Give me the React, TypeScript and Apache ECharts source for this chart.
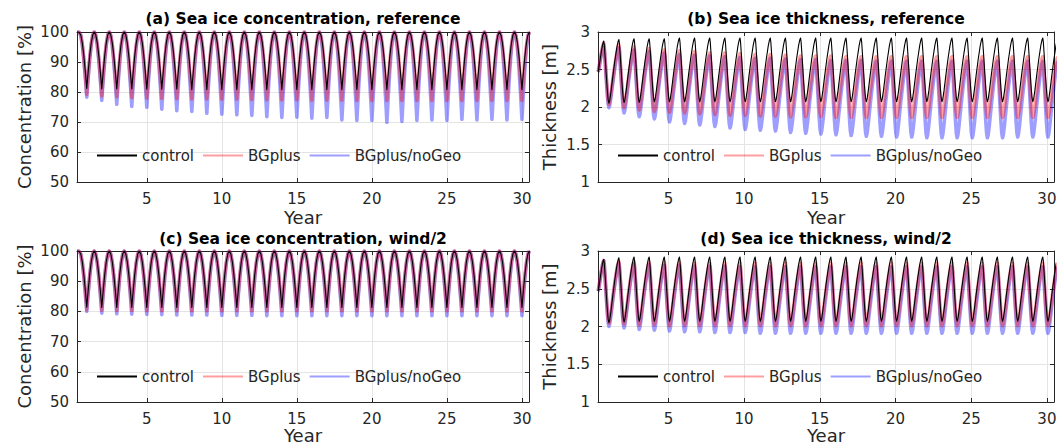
import React, { useEffect, useRef } from "react";
import * as echarts from "echarts";

// ---------- data ----------
const X_MIN = 0.35;
const X_MAX = 30.47;
const YEARS = Array.from({ length: 30 }, (_, i) => i + 1);
const SERIES_NAMES = ["control", "BGplus", "BGplus/noGeo"];

// (a) concentration, reference: yearly summer minima [%]
const A_CONTROL_MIN = [81.2, 81.0, 81.0, 81.0, 80.9, 80.9, 80.9, 80.8, 80.8, 80.8, 80.8, 80.8, 80.8, 80.8, 80.8, 80.8, 80.8, 80.8, 80.8, 80.8, 80.8, 80.8, 80.8, 80.8, 80.8, 80.8, 80.8, 80.8, 80.8, 80.8];
const A_BGPLUS_MIN = [79.2, 78.7, 78.4, 78.2, 78.0, 77.9, 77.8, 77.7, 77.7, 77.6, 77.6, 77.5, 77.4, 77.4, 77.4, 77.3, 77.3, 77.3, 77.2, 77.2, 77.2, 77.2, 77.2, 77.2, 77.2, 77.2, 77.2, 77.2, 77.2, 77.2];
const A_NOGEO_MIN = [78.3, 77.2, 75.9, 75.2, 74.9, 74.3, 73.8, 73.5, 72.9, 72.6, 72.4, 72.2, 71.8, 71.5, 71.6, 71.3, 71.5, 70.7, 70.5, 70.5, 69.9, 70.2, 70.5, 70.7, 70.5, 70.9, 70.7, 70.9, 70.7, 70.9];

// (c) concentration, wind/2
const C_CONTROL_MIN = [81.4, 81.3, 81.3, 81.3, 81.3, 81.3, 81.3, 81.3, 81.3, 81.3, 81.3, 81.3, 81.3, 81.3, 81.3, 81.3, 81.3, 81.3, 81.3, 81.3, 81.3, 81.3, 81.3, 81.3, 81.3, 81.3, 81.3, 81.3, 81.3, 81.3];
const C_BGPLUS_MIN = [80.6, 80.4, 80.3, 80.3, 80.2, 80.2, 80.2, 80.2, 80.2, 80.2, 80.2, 80.2, 80.2, 80.2, 80.2, 80.2, 80.2, 80.2, 80.2, 80.2, 80.2, 80.2, 80.2, 80.2, 80.2, 80.2, 80.2, 80.2, 80.2, 80.2];
const C_NOGEO_MIN = [80.0, 79.4, 79.2, 79.1, 79.0, 78.9, 78.8, 78.8, 78.8, 78.7, 78.7, 78.7, 78.6, 78.6, 78.6, 78.6, 78.6, 78.6, 78.6, 78.6, 78.6, 78.6, 78.6, 78.6, 78.6, 78.6, 78.6, 78.6, 78.6, 78.6];

// (b) thickness, reference: yearly winter maxima / summer minima [m]
const B_START = [2.47, 2.47, 2.47];
const B_CONTROL_PEAK = [2.88, 2.90, 2.91, 2.91, 2.91, 2.92, 2.92, 2.92, 2.92, 2.92, 2.92, 2.92, 2.92, 2.92, 2.92, 2.92, 2.92, 2.92, 2.92, 2.92, 2.92, 2.92, 2.92, 2.92, 2.92, 2.92, 2.92, 2.92, 2.92, 2.92];
const B_CONTROL_TROUGH = [2.05, 2.06, 2.06, 2.07, 2.07, 2.07, 2.07, 2.07, 2.07, 2.07, 2.07, 2.07, 2.07, 2.07, 2.07, 2.07, 2.07, 2.07, 2.07, 2.07, 2.07, 2.07, 2.07, 2.07, 2.07, 2.07, 2.07, 2.07, 2.07, 2.07];
const B_BGPLUS_PEAK = [2.85, 2.83, 2.80, 2.78, 2.76, 2.75, 2.74, 2.72, 2.72, 2.71, 2.70, 2.70, 2.69, 2.68, 2.68, 2.68, 2.67, 2.67, 2.67, 2.67, 2.67, 2.67, 2.67, 2.67, 2.67, 2.67, 2.67, 2.67, 2.67, 2.67];
const B_BGPLUS_TROUGH = [2.03, 1.99, 1.96, 1.94, 1.93, 1.92, 1.91, 1.90, 1.89, 1.89, 1.88, 1.88, 1.87, 1.87, 1.87, 1.86, 1.86, 1.86, 1.86, 1.86, 1.86, 1.86, 1.86, 1.86, 1.86, 1.86, 1.86, 1.86, 1.86, 1.86];
const B_NOGEO_PEAK = [2.83, 2.79, 2.76, 2.74, 2.72, 2.70, 2.69, 2.68, 2.67, 2.66, 2.65, 2.65, 2.64, 2.63, 2.63, 2.62, 2.62, 2.62, 2.61, 2.61, 2.61, 2.61, 2.61, 2.61, 2.61, 2.61, 2.61, 2.61, 2.61, 2.61];
const B_NOGEO_TROUGH = [1.99, 1.92, 1.87, 1.84, 1.80, 1.78, 1.76, 1.74, 1.72, 1.70, 1.69, 1.68, 1.66, 1.65, 1.64, 1.63, 1.62, 1.61, 1.61, 1.60, 1.60, 1.59, 1.59, 1.59, 1.59, 1.59, 1.59, 1.60, 1.60, 1.60];

// (d) thickness, wind/2
const D_START = [2.47, 2.47, 2.47];
const D_CONTROL_PEAK = [2.89, 2.91, 2.92, 2.92, 2.92, 2.92, 2.92, 2.92, 2.92, 2.92, 2.92, 2.92, 2.92, 2.92, 2.92, 2.92, 2.92, 2.92, 2.92, 2.92, 2.92, 2.92, 2.92, 2.92, 2.92, 2.92, 2.92, 2.92, 2.92, 2.92];
const D_CONTROL_TROUGH = [2.05, 2.06, 2.07, 2.07, 2.07, 2.07, 2.07, 2.07, 2.07, 2.07, 2.07, 2.07, 2.07, 2.07, 2.07, 2.07, 2.07, 2.07, 2.07, 2.07, 2.07, 2.07, 2.07, 2.07, 2.07, 2.07, 2.07, 2.07, 2.07, 2.07];
const D_BGPLUS_PEAK = [2.87, 2.86, 2.86, 2.85, 2.85, 2.85, 2.84, 2.84, 2.84, 2.84, 2.84, 2.84, 2.84, 2.84, 2.84, 2.84, 2.84, 2.84, 2.84, 2.84, 2.84, 2.84, 2.84, 2.84, 2.84, 2.84, 2.84, 2.84, 2.84, 2.84];
const D_BGPLUS_TROUGH = [2.04, 2.03, 2.02, 2.02, 2.01, 2.01, 2.01, 2.01, 2.01, 2.01, 2.01, 2.01, 2.01, 2.01, 2.01, 2.01, 2.01, 2.01, 2.01, 2.01, 2.01, 2.01, 2.01, 2.01, 2.01, 2.01, 2.01, 2.01, 2.01, 2.01];
const D_NOGEO_PEAK = [2.87, 2.84, 2.83, 2.82, 2.81, 2.81, 2.80, 2.80, 2.80, 2.79, 2.79, 2.79, 2.79, 2.79, 2.79, 2.79, 2.79, 2.79, 2.79, 2.79, 2.79, 2.79, 2.79, 2.79, 2.79, 2.79, 2.79, 2.79, 2.79, 2.79];
const D_NOGEO_TROUGH = [2.00, 1.98, 1.96, 1.95, 1.94, 1.93, 1.93, 1.92, 1.92, 1.92, 1.91, 1.91, 1.91, 1.91, 1.91, 1.91, 1.91, 1.91, 1.91, 1.91, 1.91, 1.91, 1.91, 1.91, 1.91, 1.91, 1.91, 1.91, 1.91, 1.91];

// seasonal timing (years relative to integer year)
const CONC_DIP_OFFSET = 0;
const THICK_PEAK_OFFSET = -0.27;
const THICK_TROUGH_OFFSET = 0.07;

// seasonal shape profiles: [fraction of segment time, fraction of change]
const CONC_FALL = [[0, 0], [0.2, 0.05], [0.4, 0.19], [0.6, 0.41], [0.8, 0.69], [0.9, 0.84], [1, 1]];
const CONC_RISE = [[0, 0], [0.1, 0.16], [0.2, 0.31], [0.4, 0.59], [0.6, 0.81], [0.8, 0.95], [1, 1]];
const THICK_RISE = [[0, 0], [0.08, 0.04], [0.2, 0.17], [0.4, 0.43], [0.6, 0.67], [0.8, 0.88], [0.92, 0.97], [1, 1]];
const THICK_FALL = [[0, 0], [0.1, 0.06], [0.3, 0.3], [0.5, 0.56], [0.7, 0.8], [0.85, 0.94], [1, 1]];

// ---------- build series data ----------
function fromExtremes(ext: number[][], rise: number[][], fall: number[][]) {
  const out: number[][] = [[ext[0][0], ext[0][1]]];
  for (let i = 1; i < ext.length; i++) {
    const [x0, v0] = ext[i - 1];
    const [x1, v1] = ext[i];
    const prof = v1 >= v0 ? rise : fall;
    for (let k = 1; k < prof.length; k++) {
      const [u, f] = prof[k];
      out.push([+(x0 + u * (x1 - x0)).toFixed(4), +(v0 + f * (v1 - v0)).toFixed(4)]);
    }
  }
  return out;
}

function concData(mins: number[]) {
  const ext: number[][] = [[X_MIN, 100], [0.5, 100]];
  YEARS.forEach((y, i) => {
    ext.push([y + CONC_DIP_OFFSET, mins[i]]);
    ext.push([y + 0.5, 100]);
  });
  return fromExtremes(ext, CONC_RISE, CONC_FALL);
}

function thickData(start: number, peaks: number[], troughs: number[]) {
  const ext: number[][] = [[X_MIN, start]];
  YEARS.forEach((y, i) => {
    ext.push([y + THICK_PEAK_OFFSET, peaks[i]]);
    ext.push([y + THICK_TROUGH_OFFSET, troughs[i]]);
  });
  ext.push([YEARS[YEARS.length - 1] + 1 + THICK_PEAK_OFFSET, peaks[peaks.length - 1]]);
  return fromExtremes(ext, THICK_RISE, THICK_FALL);
}

// ---------- layout / style ----------
const FONT = "DejaVu Sans";
const AX = "#262626";
const GRIDC = "#e4e4e4";
const GRIDS = [
  { left: 77, top: 32, width: 452, height: 150 },
  { left: 598, top: 32, width: 456, height: 150 },
  { left: 77, top: 251, width: 452, height: 151 },
  { left: 598, top: 251, width: 456, height: 151 },
];
const TITLES = [
  "(a) Sea ice concentration, reference",
  "(b) Sea ice thickness, reference",
  "(c) Sea ice concentration, wind/2",
  "(d) Sea ice thickness, wind/2",
];
const COLORS = {
  control: "#000000",
  BGplus: "rgba(255,0,0,0.38)",
  noGeo: "rgba(0,0,255,0.38)",
};

export default function App() {
  const ref = useRef<HTMLDivElement>(null);
  useEffect(() => {
    if (!ref.current) return;
    const chart = echarts.init(ref.current, undefined, { renderer: "svg" });

    const panels = [
      { kind: "conc", data: [concData(A_NOGEO_MIN), concData(A_BGPLUS_MIN), concData(A_CONTROL_MIN)] },
      { kind: "thick", data: [thickData(B_START[2], B_NOGEO_PEAK, B_NOGEO_TROUGH), thickData(B_START[1], B_BGPLUS_PEAK, B_BGPLUS_TROUGH), thickData(B_START[0], B_CONTROL_PEAK, B_CONTROL_TROUGH)] },
      { kind: "conc", data: [concData(C_NOGEO_MIN), concData(C_BGPLUS_MIN), concData(C_CONTROL_MIN)] },
      { kind: "thick", data: [thickData(D_START[2], D_NOGEO_PEAK, D_NOGEO_TROUGH), thickData(D_START[1], D_BGPLUS_PEAK, D_BGPLUS_TROUGH), thickData(D_START[0], D_CONTROL_PEAK, D_CONTROL_TROUGH)] },
    ];

    const xAxis: any[] = [];
    const yAxis: any[] = [];
    const series: any[] = [];
    const legend: any[] = [];
    const graphic: any[] = [];

    panels.forEach((p, i) => {
      const g = GRIDS[i];
      const isTop = i < 2;
      xAxis.push({
        type: "value", gridIndex: i, min: X_MIN, max: X_MAX, minInterval: 5, maxInterval: 5,
        axisLine: { show: true, onZero: false, lineStyle: { color: AX, width: 1 } },
        axisTick: { show: true, inside: true, length: 4, lineStyle: { color: AX } },
        axisLabel: {
          color: AX, fontSize: 15, fontFamily: FONT, margin: 9,
          showMinLabel: false, showMaxLabel: false,
          formatter: (v: number) => (Math.abs(v % 5) < 1e-9 ? String(v) : ""),
        },
        splitLine: { show: true, lineStyle: { color: GRIDC, width: 1 } },
        name: "Year", nameLocation: "middle", nameGap: isTop ? 26 : 22,
        nameTextStyle: { color: AX, fontSize: 18, fontFamily: FONT },
      });
      xAxis.push({
        type: "value", gridIndex: i, position: "top", min: X_MIN, max: X_MAX, minInterval: 5, maxInterval: 5,
        axisLine: { show: true, onZero: false, lineStyle: { color: AX, width: 1 } },
        axisTick: { show: true, inside: true, length: 4, lineStyle: { color: AX } },
        axisLabel: { show: false }, splitLine: { show: false },
      });
      const conc = p.kind === "conc";
      const yBase = {
        type: "value", gridIndex: i,
        min: conc ? 50 : 1, max: conc ? 100 : 3, interval: conc ? 10 : 0.5,
      };
      yAxis.push({
        ...yBase,
        axisLine: { show: true, onZero: false, lineStyle: { color: AX, width: 1 } },
        axisTick: { show: true, inside: true, length: 4, lineStyle: { color: AX } },
        axisLabel: { color: AX, fontSize: 15, fontFamily: FONT, margin: 8 },
        splitLine: { show: true, lineStyle: { color: GRIDC, width: 1 } },
        name: conc ? "Concentration [%]" : "Thickness [m]",
        nameLocation: "middle", nameRotate: 90, nameGap: conc ? 44 : 40,
        nameTextStyle: { color: AX, fontSize: 18, fontFamily: FONT },
      });
      yAxis.push({
        ...yBase, position: "right",
        axisLine: { show: true, onZero: false, lineStyle: { color: AX, width: 1 } },
        axisTick: { show: true, inside: true, length: 4, lineStyle: { color: AX } },
        axisLabel: { show: false }, splitLine: { show: false },
      });

      const styles = [
        { name: SERIES_NAMES[2], color: COLORS.noGeo, width: 3.6 },
        { name: SERIES_NAMES[1], color: COLORS.BGplus, width: 3.6 },
        { name: SERIES_NAMES[0], color: COLORS.control, width: 1.1 },
      ];
      styles.forEach((s, k) => {
        series.push({
          type: "line", name: s.name, xAxisIndex: i * 2, yAxisIndex: i * 2,
          data: p.data[k], showSymbol: false, symbol: "none", clip: true,
          lineStyle: { color: s.color, width: s.width, join: "round" },
          itemStyle: { color: s.color },
          emphasis: { disabled: true }, silent: true,
        });
      });

      legend.push({
        data: SERIES_NAMES, selectedMode: false,
        left: g.left + 19, top: g.top + (isTop ? 116 : 118),
        itemWidth: 40, itemHeight: 14, itemGap: 8, padding: 0,
        itemStyle: { opacity: 0 },
        textStyle: { color: AX, fontSize: 15, fontFamily: FONT },
      });

      graphic.push({
        type: "text", x: g.left + g.width / 2, y: isTop ? 19 : 239,
        style: {
          text: TITLES[i], align: "center", verticalAlign: "middle",
          font: `bold 15.5px "${FONT}"`, fill: "#000",
        },
      });
    });

    chart.setOption({
      animation: false,
      backgroundColor: "#ffffff",
      grid: GRIDS.map((g) => ({ ...g, containLabel: false })),
      xAxis, yAxis, series, legend, graphic,
    });
    return () => chart.dispose();
  }, []);
  return <div ref={ref} style={{ position: "absolute", left: 0, top: 0, width: 1060, height: 447 }} />;
}
